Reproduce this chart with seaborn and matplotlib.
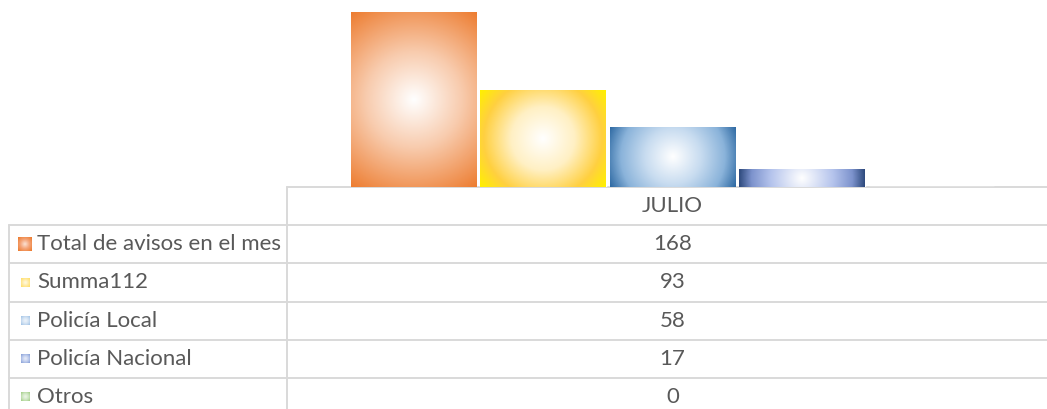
import numpy as np
import pandas as pd
import matplotlib
matplotlib.use("Agg")
import matplotlib.pyplot as plt
from matplotlib.colors import LinearSegmentedColormap
import seaborn as sns

# data
mes = ["JULIO"]
series = ["Total de avisos en el mes", "Summa112", "Policía Local", "Policía Nacional", "Otros"]
valores = [168, 93, 58, 17, 0]

# radial fill per series: white centre -> series colour at the corners
gradientes = [
    [(0.0, "#FFFFFF"), (0.45, "#F8CBAD"), (1.0, "#ED7D31")],
    [(0.0, "#FFFFFF"), (0.40, "#FFF0C4"), (0.75, "#FFD040"), (1.0, "#FFF000")],
    [(0.0, "#FFFFFF"), (0.40, "#C8DCF0"), (0.75, "#8AB3DA"), (1.0, "#2F6AA3")],
    [(0.0, "#FFFFFF"), (0.50, "#B4C3EC"), (0.80, "#7D93CD"), (1.0, "#2E4A7D")],
    [(0.0, "#FFFFFF"), (0.60, "#C5E0B4"), (1.0, "#70AD47")],
]
# the little legend keys in the table are paler
gradientes_clave = [
    [(0.0, "#FBE3D6"), (0.5, "#F4A57A"), (1.0, "#ED7D31")],
    [(0.0, "#FFFBEA"), (0.6, "#FFEAA0"), (1.0, "#FFE070")],
    [(0.0, "#F2F7FC"), (0.6, "#CFE0F2"), (1.0, "#A9C8E8")],
    [(0.0, "#EEF1FA"), (0.6, "#BCCAEC"), (1.0, "#8FA6DA")],
    [(0.0, "#F1F8EC"), (0.6, "#CDE5C0"), (1.0, "#A9D18E")],
]
base_colores = ["#ED7D31", "#FFC000", "#5B9BD5", "#4472C4", "#70AD47"]

W, H = 1047, 409
GRIS = "#D9D9D9"
TEXTO = "#595959"
TAB_X0, COL_X, CAT_W = 9, 287, 771
Y_BASE, Y_TOP, ROW_H = 187, 12, 38.2

sns.set_theme(style="white")
plt.rcParams["font.family"] = ["Lato", "DejaVu Sans"]

fig = plt.figure(figsize=(W / 100, H / 100), dpi=100)

# full-figure pixel axes for the data table
tab = fig.add_axes([0, 0, 1, 1], zorder=0)
tab.set_xlim(0, W)
tab.set_ylim(H, 0)
tab.axis("off")

# bar axes sitting on top of the table's value column
ax = fig.add_axes([COL_X / W, (H - Y_BASE) / H, CAT_W / W, (Y_BASE - Y_TOP) / H], zorder=1)
ax.patch.set_alpha(0)

df = pd.DataFrame({"mes": mes * len(series), "serie": series, "valor": valores})
sns.barplot(data=df, x="mes", y="valor", hue="serie", hue_order=series,
            palette=base_colores, width=0.84, gap=0.03, saturation=1,
            legend=False, ax=ax)
ax.set_xlim(-0.5, 0.5)
ax.set_ylim(0, max(valores))
ax.axis("off")


def pintar_gradiente(axe, x0, x1, y0, y1, stops, clip=None, zorder=3):
    # work in display pixels so the light spot stays round
    (px0, py0), (px1, py1) = axe.transData.transform([(x0, y0), (x1, y1)])
    w, h = abs(px1 - px0), abs(py1 - py0)
    nx, ny = max(int(w), 2), max(int(h), 2)
    xx, yy = np.meshgrid(np.linspace(-w / 2, w / 2, nx), np.linspace(-h / 2, h / 2, ny))
    r = np.hypot(xx, yy) / np.hypot(w / 2, h / 2)
    cmap = LinearSegmentedColormap.from_list("g", stops)
    im = axe.imshow(r, cmap=cmap, vmin=0, vmax=1, extent=(x0, x1, y0, y1),
                    origin="lower", aspect="auto", interpolation="bilinear", zorder=zorder)
    if clip is not None:
        im.set_clip_path(clip)
    return im


for patch, stops in zip(ax.patches, gradientes):
    if patch.get_height() <= 0:
        continue
    x0, y0 = patch.get_x(), patch.get_y()
    pintar_gradiente(ax, x0, x0 + patch.get_width(), y0, y0 + patch.get_height(), stops, clip=patch)
ax.set_xlim(-0.5, 0.5)
ax.set_ylim(0, max(valores))

# table grid
lw = 1.4
tab.plot([COL_X, W], [Y_BASE, Y_BASE], color=GRIS, lw=lw, zorder=2)
tab.plot([COL_X, COL_X], [Y_BASE, H], color=GRIS, lw=lw)
filas = [Y_BASE + ROW_H * (i + 1) for i in range(len(series) + 1)]
tab.plot([TAB_X0, TAB_X0], [filas[0], H], color=GRIS, lw=lw)
for y in filas:
    tab.plot([TAB_X0, W], [y, y], color=GRIS, lw=lw)

cx = COL_X + CAT_W / 2
fs = 16
tab.text(cx, Y_BASE + ROW_H / 2, mes[0], ha="center", va="center", fontsize=fs, color=TEXTO)
for i, (nombre, v, stops) in enumerate(zip(series, valores, gradientes_clave)):
    yc = filas[i] + ROW_H / 2
    tab.text(37, yc, nombre, ha="left", va="center", fontsize=fs, color=TEXTO)
    tab.text(cx, yc, str(v), ha="center", va="center", fontsize=fs, color=TEXTO)
    s = 13.5 if i == 0 else 8.5
    pintar_gradiente(tab, 25 - s / 2, 25 + s / 2, yc - s / 2, yc + s / 2, stops, zorder=3)

fig.savefig("out.png", dpi=100)
